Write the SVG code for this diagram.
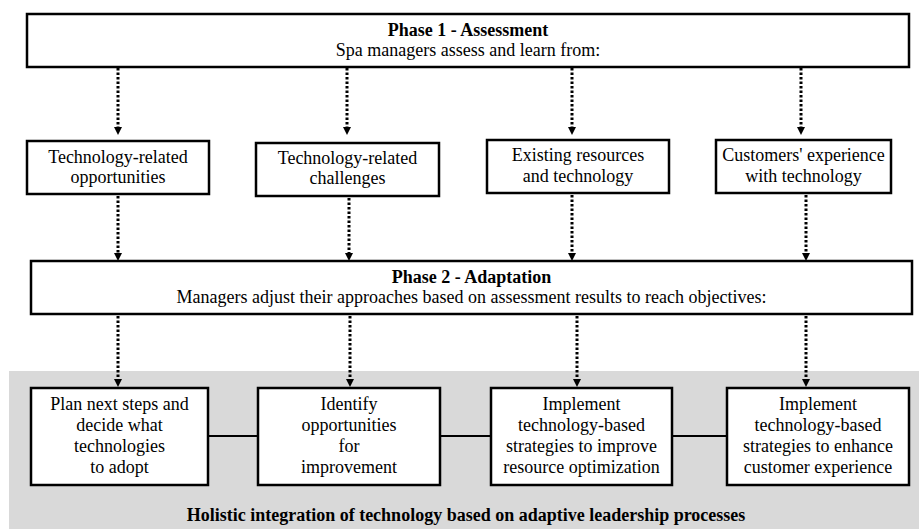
<svg xmlns="http://www.w3.org/2000/svg" width="919" height="529" viewBox="0 0 919 529">
  <style>
    .box { fill: #ffffff; stroke: #000000; stroke-width: 2.5; }
    .t { font-family: "Liberation Serif", "Times New Roman", serif; font-size: 18px; fill: #000000; text-anchor: middle; }
    .b { font-weight: bold; }
    .dot { stroke: #000000; stroke-width: 3; stroke-dasharray: 2.5 2; fill: none; }
    .link { stroke: #000000; stroke-width: 2; fill: none; }
    .head { fill: #000000; }
  </style>
  <defs>
    <path id="tip" class="head" d="M -4 -8 L 4 -8 L 0 0 Z"/>
  </defs>
  <rect width="919" height="529" fill="#ffffff"/>
  <!-- shaded band for the holistic integration area -->
  <rect id="band" x="9" y="371" width="910" height="158" fill="#d9d9d9"/>

  <g id="connectors">
    <!-- Phase 1 to assessment items -->
    <line class="dot" x1="118" y1="68" x2="118" y2="128"/>
    <use href="#tip" x="118" y="135"/>
    <line class="dot" x1="347" y1="68" x2="347" y2="128"/>
    <use href="#tip" x="347" y="135"/>
    <line class="dot" x1="572" y1="68" x2="572" y2="128"/>
    <use href="#tip" x="572" y="135"/>
    <line class="dot" x1="801" y1="68" x2="801" y2="128"/>
    <use href="#tip" x="801" y="135"/>
    <!-- assessment items to Phase 2 -->
    <line class="dot" x1="118" y1="196" x2="118" y2="254"/>
    <use href="#tip" x="118" y="261"/>
    <line class="dot" x1="349" y1="198" x2="349" y2="254"/>
    <use href="#tip" x="349" y="261"/>
    <line class="dot" x1="572" y1="195" x2="572" y2="254"/>
    <use href="#tip" x="572" y="261"/>
    <line class="dot" x1="806" y1="195" x2="806" y2="254"/>
    <use href="#tip" x="806" y="261"/>
    <!-- Phase 2 to objectives -->
    <line class="dot" x1="118" y1="316" x2="118" y2="380"/>
    <use href="#tip" x="118" y="387"/>
    <line class="dot" x1="350" y1="316" x2="350" y2="380"/>
    <use href="#tip" x="350" y="387"/>
    <line class="dot" x1="577" y1="316" x2="577" y2="380"/>
    <use href="#tip" x="577" y="387"/>
    <line class="dot" x1="806" y1="316" x2="806" y2="380"/>
    <use href="#tip" x="806" y="387"/>
    <!-- links between objectives -->
    <line class="link" x1="208" y1="436" x2="258" y2="436"/>
    <line class="link" x1="440" y1="436" x2="491" y2="436"/>
    <line class="link" x1="672" y1="436" x2="727" y2="436"/>
  </g>

  <g id="phase1">
    <rect class="box" x="27" y="14" width="882" height="53"/>
    <text class="t b" x="468" y="36">Phase 1 - Assessment</text>
    <text class="t" x="468" y="56">Spa managers assess and learn from:</text>
  </g>

  <g id="opportunities">
    <rect class="box" x="27" y="141" width="182" height="53"/>
    <text class="t" x="118" y="163">Technology-related</text>
    <text class="t" x="118" y="183">opportunities</text>
  </g>
  <g id="challenges">
    <rect class="box" x="256" y="143" width="183" height="53"/>
    <text class="t" x="347.5" y="164">Technology-related</text>
    <text class="t" x="347.5" y="184">challenges</text>
  </g>
  <g id="resources">
    <rect class="box" x="487" y="140" width="182" height="53"/>
    <text class="t" x="578" y="161">Existing resources</text>
    <text class="t" x="578" y="182">and technology</text>
  </g>
  <g id="customers">
    <rect class="box" x="716" y="140" width="175" height="53"/>
    <text class="t" x="803.5" y="161">Customers' experience</text>
    <text class="t" x="803.5" y="182">with technology</text>
  </g>

  <g id="phase2">
    <rect class="box" x="31" y="261" width="881" height="53"/>
    <text class="t b" x="471.5" y="283">Phase 2 - Adaptation</text>
    <text class="t" x="471.5" y="303">Managers adjust their approaches based on assessment results to reach objectives:</text>
  </g>

  <g id="plan">
    <rect class="box" x="31" y="388" width="177" height="97"/>
    <text class="t" x="119.5" y="410">Plan next steps and</text>
    <text class="t" x="119.5" y="431">decide what</text>
    <text class="t" x="119.5" y="452">technologies</text>
    <text class="t" x="119.5" y="473">to adopt</text>
  </g>
  <g id="identify">
    <rect class="box" x="258" y="388" width="182" height="97"/>
    <text class="t" x="349" y="410">Identify</text>
    <text class="t" x="349" y="431">opportunities</text>
    <text class="t" x="349" y="452">for</text>
    <text class="t" x="349" y="473">improvement</text>
  </g>
  <g id="resource-strategies">
    <rect class="box" x="491" y="388" width="181" height="97"/>
    <text class="t" x="581.5" y="410">Implement</text>
    <text class="t" x="581.5" y="431">technology-based</text>
    <text class="t" x="581.5" y="452">strategies to improve</text>
    <text class="t" x="581.5" y="473">resource optimization</text>
  </g>
  <g id="customer-strategies">
    <rect class="box" x="727" y="388" width="182" height="97"/>
    <text class="t" x="818" y="410">Implement</text>
    <text class="t" x="818" y="431">technology-based</text>
    <text class="t" x="818" y="452">strategies to enhance</text>
    <text class="t" x="818" y="473">customer experience</text>
  </g>

  <text class="t b" x="466" y="521">Holistic integration of technology based on adaptive leadership processes</text>
</svg>
